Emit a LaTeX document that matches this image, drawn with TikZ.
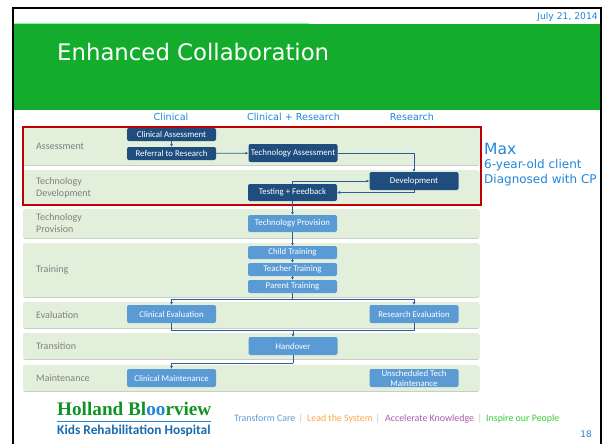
\documentclass[tikz,border=0pt]{standalone}
\usepackage{fontspec}
\setmainfont{DejaVu Sans}
\newfontfamily\boxfont{Carlito}
\newfontfamily\logofont{Liberation Serif}
\usetikzlibrary{shadows,arrows.meta}
\definecolor{slidegreen}{HTML}{14AC2C}
\definecolor{slideblue}{HTML}{1F86DA}
\definecolor{rowgreen}{HTML}{E2EFDA}
\definecolor{darkstep}{HTML}{1F4E7E}
\definecolor{lightstep}{HTML}{5B9BD5}
\definecolor{linkblue}{HTML}{2F5B9A}
\definecolor{framered}{HTML}{C00000}
\tikzset{
    rowbox/.style={fill=rowgreen, rounded corners=1.5pt, minimum width=456pt, inner sep=0pt,
        general shadow={shadow xshift=0.4pt, shadow yshift=-0.8pt, fill=black!22}},
    rowlabel/.style={font=\boxfont\fontsize{10}{12}\selectfont, text=black!50, align=left, anchor=west, inner sep=0pt},
    stepdark/.style={fill=darkstep, text=white, rounded corners=2pt, minimum width=89pt, inner sep=0pt,
        font=\boxfont\fontsize{8.8}{10}\selectfont, align=center},
    steplight/.style={stepdark, fill=lightstep},
    link/.style={draw=linkblue, line width=0.8pt},
    arrowlink/.style={link, -{Latex[length=2.8pt,width=3pt]}},
    headlabel/.style={font=\fontsize{9.6}{11}\selectfont, text=slideblue, inner sep=0pt},
    tagline/.style={font=\boxfont\fontsize{9.9}{11}\selectfont, inner sep=0pt}
}
\begin{document}
\begin{tikzpicture}[x=1pt, y=-1pt]
    \useasboundingbox (0,0) rectangle (602,444);
    % slide frame and title band
    \fill[slidegreen] (14,24) rectangle (600,110);
    \draw[green!50!white, line width=0.6pt] (14,23.5) -- (309,23.5);
    \draw[black, line width=2pt] (12.5,444) -- (12.5,8) -- (601,8) -- (601,444);
    \node[white, anchor=west, inner sep=0pt, font=\fontsize{22.8}{27}\selectfont] (title) at (57,52) {Enhanced Collaboration};
    \node[headlabel, anchor=east, font=\fontsize{9.2}{11}\selectfont] (date) at (598,17) {July 21, 2014};
    % column headings
    \node[headlabel] (headclin) at (171,116.5) {Clinical};
    \node[headlabel] (headboth) at (293.5,116.5) {Clinical + Research};
    \node[headlabel] (headres) at (412,116.5) {Research};
    % phase rows: name / middle y / height / label
    \foreach \nm/\y/\h/\txt in {assess/146/38/{Assessment},
        develop/187.5/35/{Technology\\Development},
        provide/223.5/29/{Technology\\Provision},
        train/270/54/{Training},
        evaluate/315/26/{Evaluation},
        transit/346/26/{Transition},
        maintain/378/26/{Maintenance}}{
        \node[rowbox, minimum height=\h pt] (\nm) at (251,\y) {};
        \node[rowlabel] (\nm label) at (36,\y) {\txt};
    }
    % red frame round the first two rows
    \draw[framered, line width=2pt] (22.5,126.5) rectangle (480.5,205);
    % dark steps
    \node[stepdark, minimum height=13pt] (clinassess) at (171.5,134.5) {Clinical Assessment};
    \node[stepdark, minimum height=13pt] (referral) at (171.5,153.5) {Referral to Research};
    \node[stepdark, minimum height=18pt] (techassess) at (293,153) {Technology Assessment};
    \node[stepdark, minimum height=18pt] (development) at (414,181) {Development};
    \node[stepdark, minimum height=17pt] (testing) at (292.5,192.5) {Testing + Feedback};
    % light steps
    \node[steplight, minimum height=17pt] (techprov) at (292.5,223.5) {Technology Provision};
    \node[steplight, minimum height=13pt] (child) at (292.5,252.5) {Child Training};
    \node[steplight, minimum height=13pt] (teacher) at (292.5,269.5) {Teacher Training};
    \node[steplight, minimum height=13pt] (parent) at (292.5,286.5) {Parent Training};
    \node[steplight, minimum height=18pt] (clineval) at (171.5,314) {Clinical Evaluation};
    \node[steplight, minimum height=18pt] (reseval) at (414,314) {Research Evaluation};
    \node[steplight, minimum height=18pt] (handover) at (293,346) {Handover};
    \node[steplight, minimum height=18pt] (clinmaint) at (171.5,378) {Clinical Maintenance};
    \node[steplight, minimum height=18pt] (unsched) at (414,378) {Unscheduled Tech\\Maintenance};
    % junctions of the branching links
    \coordinate (splitparent) at (292.5,299);
    \coordinate (joineval) at (293,330);
    \coordinate (splithand) at (293,363);
    % links between steps
    \draw[arrowlink] (clinassess) -- (referral);
    \draw[arrowlink] (referral) -- (techassess);
    \draw[arrowlink] (techassess.east) -| (development.north);
    \draw[arrowlink] (testing.north) |- (development.west);
    \draw[arrowlink] (development.south) |- (testing.east);
    \draw[arrowlink] (testing) -- (techprov);
    \draw[arrowlink] (techprov) -- (child);
    \draw[arrowlink] (child) -- (teacher);
    \draw[arrowlink] (teacher) -- (parent);
    \draw[link] (parent) -- (splitparent);
    \draw[arrowlink] (splitparent) -| (clineval.north);
    \draw[arrowlink] (splitparent) -| (reseval.north);
    \draw[link] (clineval.south) |- (joineval);
    \draw[link] (reseval.south) |- (joineval);
    \draw[arrowlink] (joineval) -- (handover);
    \draw[link] (handover) -- (splithand);
    \draw[arrowlink] (splithand) -| (clinmaint.north);
    % client note
    \node[text=slideblue, anchor=west, inner sep=0pt, font=\fontsize{15.5}{18}\selectfont] (max) at (484,149) {Max};
    \node[text=slideblue, anchor=west, inner sep=0pt, font=\fontsize{12}{14}\selectfont] (client) at (484,165.5) {6-year-old client};
    \node[text=slideblue, anchor=west, inner sep=0pt, font=\fontsize{12}{14}\selectfont] (diagnosis) at (484,180) {Diagnosed with CP};
    % logo
    \node[anchor=west, inner sep=0pt, text=slidegreen!85!black, font=\logofont\bfseries\fontsize{19.2}{22}\selectfont] (holland) at (57,409) {Holland Bl\textcolor{slideblue}{oo}rview};
    \draw[slideblue, line width=0.6pt] (57,421) -- (211,421);
    \node[anchor=west, inner sep=0pt, text=slideblue!80!black, font=\boxfont\bfseries\fontsize{13.4}{16}\selectfont] (kids) at (57,430.5) {Kids Rehabilitation Hospital};
    % tagline
    \node[tagline, text=lightstep, anchor=west] (care) at (234,418.5) {Transform Care};
    \node[tagline, text=black!25] (sepa) at (301,418.5) {|};
    \node[tagline, text=orange!70!white, anchor=west] (lead) at (307,418.5) {Lead the System};
    \node[tagline, text=black!25] (sepb) at (378,418.5) {|};
    \node[tagline, text=violet!65!white, anchor=west] (accel) at (385,418.5) {Accelerate Knowledge};
    \node[tagline, text=black!25] (sepc) at (480,418.5) {|};
    \node[tagline, text=green!60!gray, anchor=west] (inspire) at (486,418.5) {Inspire our People};
    \node[headlabel, font=\fontsize{9}{11}\selectfont] (page) at (586,434) {18};
\end{tikzpicture}
\end{document}
